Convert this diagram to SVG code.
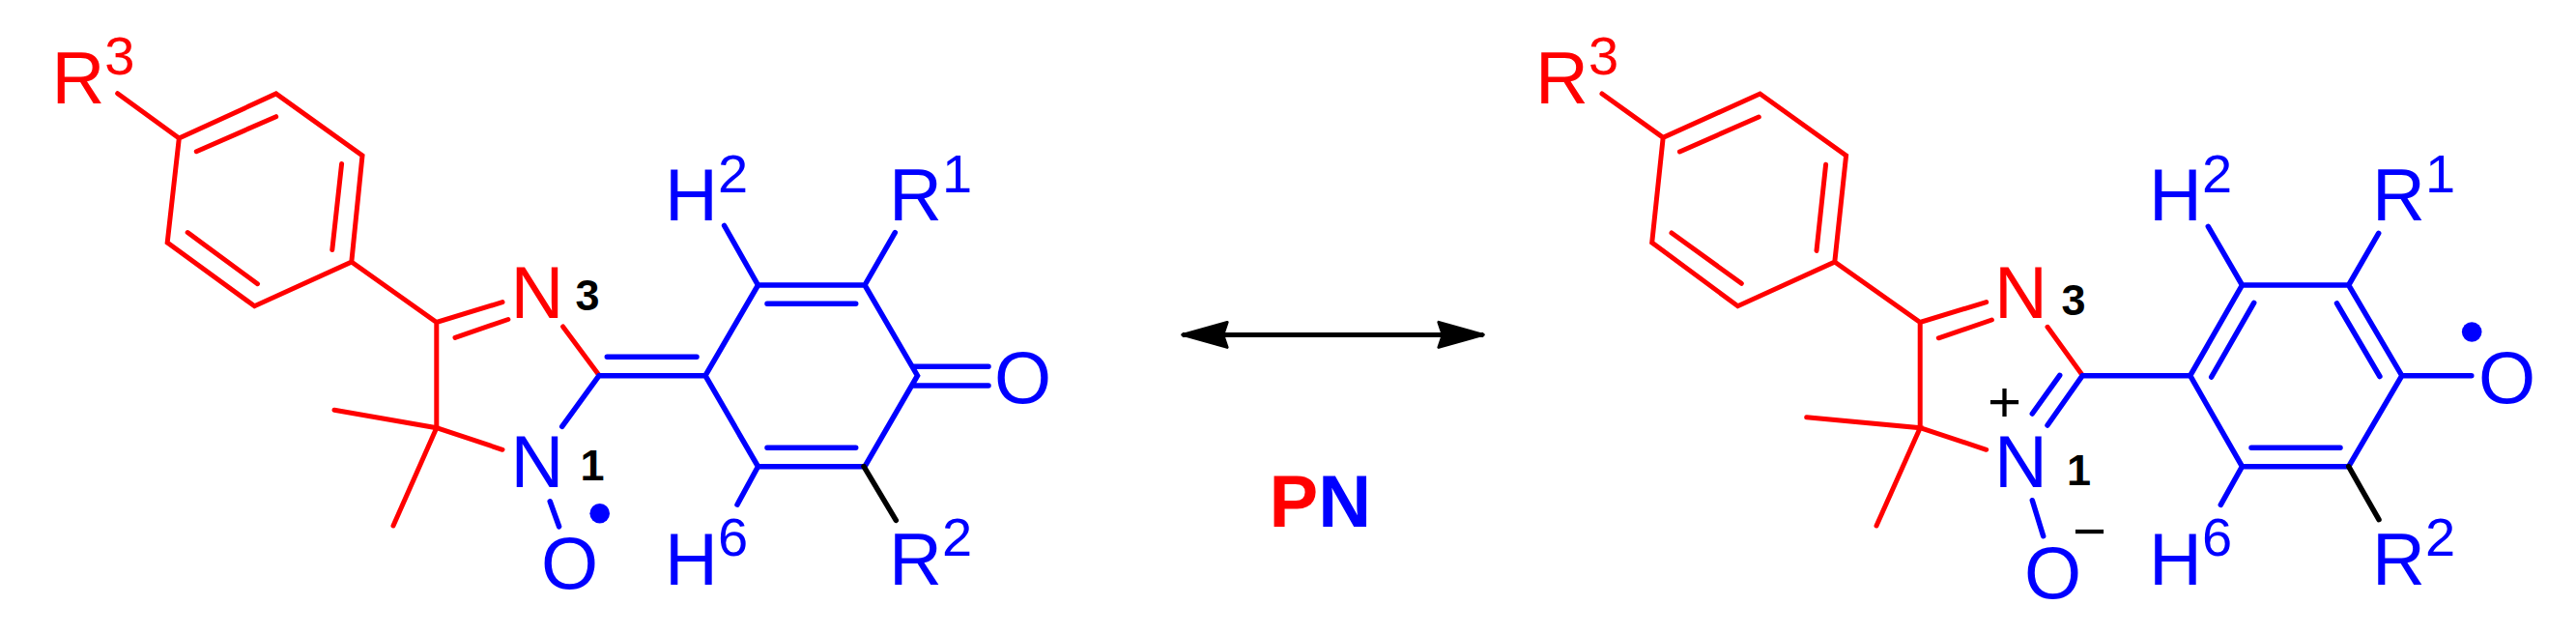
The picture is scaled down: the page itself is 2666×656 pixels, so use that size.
<svg xmlns="http://www.w3.org/2000/svg" width="2666" height="656" viewBox="0 0 2666 656">
<style>
text{font-family:"Liberation Sans",Arial,sans-serif;font-size:76px}
.r{fill:#f00}.b{fill:#00f}.k{fill:#000}
text.num{font-weight:bold;font-size:45px;fill:#000}
.s{font-size:56px}
text.pm{font-size:60px;fill:#000}
text.pn{font-weight:bold}
.lr,.lb,.lk{fill:none;stroke-linecap:round;stroke-linejoin:miter}
.lr{stroke:#f00;stroke-width:5}.lb{stroke:#00f;stroke-width:5.5}.lk{stroke:#000;stroke-width:5.5}
.arrow{fill:none;stroke:#000;stroke-width:5}
</style>
<defs>
<marker id="ah" viewBox="0 0 50 30" refX="48" refY="15" markerWidth="50" markerHeight="30" markerUnits="userSpaceOnUse" orient="auto-start-reverse"><path d="M48 15L1.6 2 6 15 1.6 28Z" fill="#000" stroke="#000" stroke-width="3" stroke-linejoin="round"/></marker>
</defs>
<rect width="2666" height="656" fill="#fff"/>
<g id="connectors">
<path class="lr" d="M121.7 96.7L185.3 143.1M185.3 143.1L285.7 97L375 161L363.8 271L263.4 316.7L173.2 251ZM203.3 156.7L285.7 120.7M353.6 169.5L343.8 258.6M194.2 240.6L266.5 293.7M363.8 271L451.8 333.5L520 312.6M471 349.4L525.9 330.5M451.8 333.5V442.7M346 424.3L451.8 442.7L407 544M451.8 442.7L520 465.3M582.6 338L620 388.3"/>
<path class="lb" d="M620 388.7L581.7 441.4M569.2 518.8L578.6 544.8M620 388.7H730M628.3 369.3H721M730 388.7L784.5 295H895L949.5 388.7L895 482.7H784.5ZM794 314.3H885.7M794 463.3H885.7M946 379.3H1023M945 399H1023M749.6 233.5L784.5 295M926.3 240.6L895 295M784.5 482.7L763 522.2"/>
<path class="lk" d="M894 482.7L927.3 538.3"/>
<path class="arrow" d="M1223.7 346.4H1535.3" marker-start="url(#ah)" marker-end="url(#ah)"/>
<path class="lr" d="M1658 97L1721.2 142.3L1821.5 97L1910.6 161L1898.8 271L1798.5 316.7L1709.7 251L1721.2 142.3M1738.4 157L1820.3 121M1889.6 170.3L1880 259.4M1730 241L1802.3 293.3M1898.8 271L1987.2 333.5L2055.7 312.6M2006.3 349.8L2061.4 331M1987.2 333.5V442.7M1869.7 431.8L1987.2 442.7L1942 544M1987.2 442.7L2055.7 465.3M2119 338.3L2155.2 388.3"/>
<path class="lb" d="M2155.2 388.7L2119 440M2131.7 388.3L2103.3 428M2103.3 517.7L2114.7 554.7M2155.2 388.7H2266.7L2320.5 295H2430.7L2485.8 388.7L2430.7 482.7H2320.5L2266.7 388.7M2332.7 313.3L2288.7 390M2418.5 313.8L2462.9 389.5M2330 463.2H2422M2285.3 234.3L2320.5 295M2461.7 241.4L2430.7 295M2320.5 482.7L2298.3 522.3M2485.8 388.7H2557.8"/>
<path class="lk" d="M2430.7 482.7L2462 537.7"/>
</g>
<g id="pn-left">
<text id="l-r3" class="r" x="53.4" y="106.7">R<tspan class="s" dy="-30">3</tspan></text>
<text id="l-n3" class="r" x="528.6" y="328.5">N</text>
<text id="l-num3" class="num" x="595.5" y="320.5">3</text>
<text id="l-n1" class="b" x="528.6" y="504.2">N</text>
<text id="l-num1" class="num" x="600.5" y="496.7">1</text>
<text id="l-o1" class="b" x="560" y="608.6">O</text>
<circle id="l-dot" class="b" cx="620.7" cy="531.3" r="10.3"/>
<text id="l-h2" class="b" x="688" y="228">H<tspan class="s" dy="-29">2</tspan></text>
<text id="l-r1" class="b" x="920" y="228">R<tspan class="s" dy="-29">1</tspan></text>
<text id="l-o2" class="b" x="1029" y="417.4">O</text>
<text id="l-h6" class="b" x="688" y="605.4">H<tspan class="s" dy="-30">6</tspan></text>
<text id="l-r2" class="b" x="920" y="605.4">R<tspan class="s" dy="-30">2</tspan></text>
</g>
<g id="pn-label">
<text class="pn" x="1313.5" y="545"><tspan class="r">P</tspan><tspan class="b">N</tspan></text>
</g>
<g id="pn-right">
<text id="r-r3" class="r" x="1589" y="106.7">R<tspan class="s" dy="-30">3</tspan></text>
<text id="r-n3" class="r" x="2064" y="328.5">N</text>
<text id="r-num3" class="num" x="2133.5" y="326">3</text>
<text id="r-plus" class="pm" x="2057" y="436">+</text>
<text id="r-n1" class="b" x="2064" y="504.2">N</text>
<text id="r-num1" class="num" x="2139" y="502">1</text>
<text id="r-o1" class="b" x="2095" y="619">O</text>
<text id="r-minus" class="pm" x="2145" y="570">−</text>
<text id="r-h2" class="b" x="2224" y="228">H<tspan class="s" dy="-29">2</tspan></text>
<text id="r-r1" class="b" x="2455" y="228">R<tspan class="s" dy="-29">1</tspan></text>
<text id="r-o2" class="b" x="2565" y="417.4">O</text>
<circle id="r-dot" class="b" cx="2558.2" cy="343.5" r="10.3"/>
<text id="r-h6" class="b" x="2224" y="605.4">H<tspan class="s" dy="-30">6</tspan></text>
<text id="r-r2" class="b" x="2455" y="605.4">R<tspan class="s" dy="-30">2</tspan></text>
</g>
</svg>
